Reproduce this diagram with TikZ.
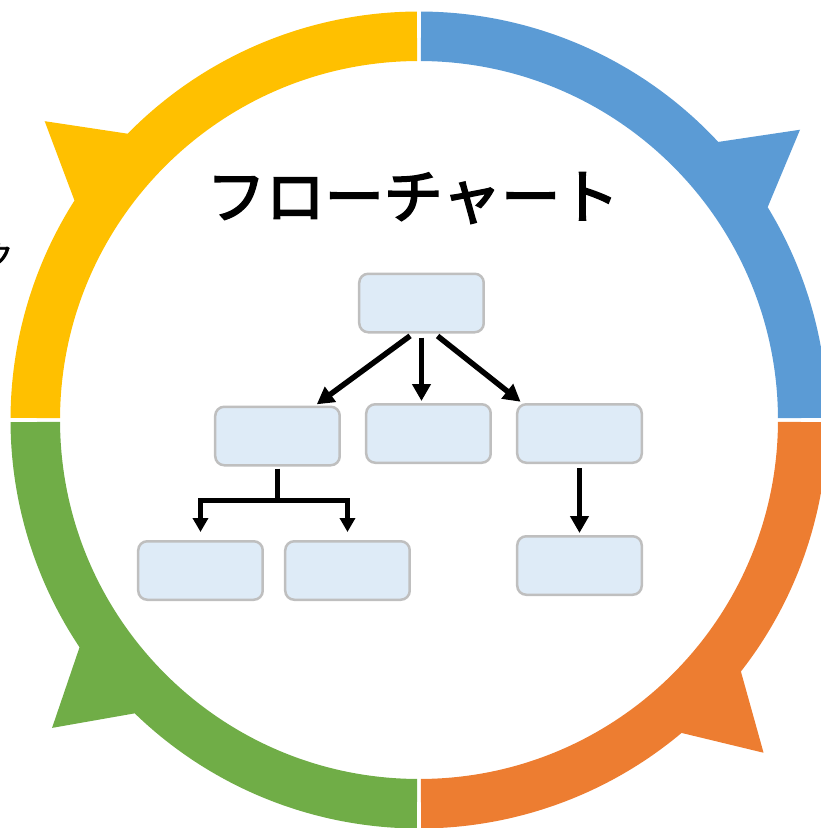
\documentclass[tikz,border=0pt]{standalone}
\usepackage{fontspec}
\usepackage{xcolor}
\usepackage{tikz}
\usetikzlibrary{calc}
\usetikzlibrary{positioning}
\usetikzlibrary{arrows.meta}
\newfontfamily\jpfont[FakeBold=3]{Noto Sans CJK JP}
\definecolor{ringblue}{HTML}{5B9BD5}
\definecolor{ringyellow}{HTML}{FFC000}
\definecolor{ringgreen}{HTML}{70AD47}
\definecolor{ringorange}{HTML}{ED7D31}
\definecolor{boxfill}{HTML}{DEEBF7}
\definecolor{boxline}{HTML}{BFBFBF}
\tikzset{
  flowbox/.style={
    draw=boxline,
    fill=boxfill,
    shape=rectangle,
    line width=2.5pt,
    rounded corners=9pt,
    minimum width=124.5pt,
    minimum height=58.5pt,
  },
  flowarrow/.style={
    draw=black,
    line width=5.5pt,
    -{Triangle[width=18pt,length=17pt]},
    shorten <=4pt,
    shorten >=2pt,
  },
  brancharrow/.style={
    draw=black,
    line width=4.5pt,
    -{Triangle[width=15pt,length=14pt]},
    shorten >=8pt,
  },
}

\begin{document}
\begin{tikzpicture}[x=1pt,y=1pt]
       \useasboundingbox (-419,-408) rectangle (401,420);

       % ring segments with their spikes
       \foreach \col/\a/\b/\s/\e/\t in {ringblue/0.3/89.7/31.4/42.9/37.3,
                ringyellow/90.3/179.7/135.5/147.5/141.4,
                ringgreen/180.3/269.7/213.8/225.9/220,
                ringorange/270.3/359.7/310/322/316}
         \fill[\col] (\a:408.5) arc[start angle=\a, end angle=\s, radius=408.5]
           -- (\t:479) -- (\e:408.5) arc[start angle=\e, end angle=\b, radius=408.5]
           -- (\b:359) arc[start angle=\b, end angle=\a, radius=359] -- cycle;

       \node[font=\jpfont\fontsize{59}{70}\selectfont] (title) at (-6,222) {フローチャート};
       \node[font=\jpfont\fontsize{28}{34}\selectfont, anchor=east, inner sep=0pt] (edge) at (-406,165) {ク};

       \node[flowbox] (top) at (2.5,117) {};
       \node[flowbox] (midC) at (9.5,-13.5) {};
       \node[flowbox] (midL) [left=24pt of midC, yshift=-2.5pt] {};
       \node[flowbox] (midR) [right=24pt of midC] {};
       \node[flowbox] (botL) at (-218.5,-150.5) {};
       \node[flowbox] (botM) [right=20pt of botL] {};
       \node[flowbox] (botR) [below=71pt of midR] {};

       \draw[flowarrow] (top.255) -- (midL.39);
       \draw[flowarrow] (top.south) -- (top.south |- midC.north);
       \draw[flowarrow] (top.293.6) -- (midR.152.4);
       \draw[flowarrow] (midR.south) -- (botR.north);

       \draw[draw=black, line width=4.5pt, shorten <=2pt] (midL.south) -- ++(0,-34) coordinate (split);
       \draw[brancharrow] (split) -| (botL.north);
       \draw[brancharrow] (split) -| (botM.north);
   \end{tikzpicture}
\end{document}
